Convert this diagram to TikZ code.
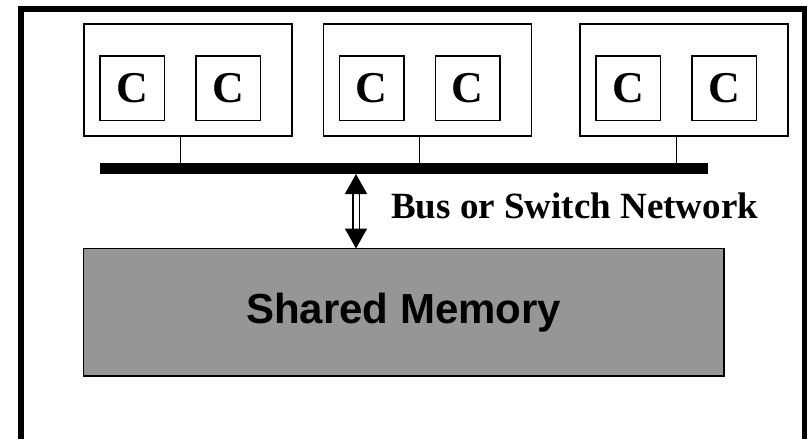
\documentclass[tikz,border=0pt]{standalone}
\usepackage{fontspec}
\setmainfont{Liberation Serif}
\newfontfamily\memfont{Liberation Sans}
\usetikzlibrary{arrows.meta,calc}
\definecolor{memgray}{RGB}{150,150,150}
\begin{document}
\begin{tikzpicture}[x=1pt,y=-1pt,
  procbox/.style={draw, line width=1.3pt, minimum width=208pt, minimum height=112pt,
    anchor=north west, inner sep=0pt, outer sep=0pt},
  corebox/.style={draw, line width=1.3pt, minimum width=64.5pt, minimum height=64.5pt,
    anchor=north west, inner sep=0pt, outer sep=0pt,
    font=\fontsize{44}{44}\selectfont\bfseries},
  link/.style={line width=1.3pt},
]
\useasboundingbox (0,0) rectangle (807,439);
% outer frame
\draw[line width=6pt] (20.5,8.5) rectangle (804.5,442);

% processor boxes, each holding two cores
\foreach \n/\x in {1/84, 2/323.5, 3/580}{
  \node[procbox] (p\n) at (\x,24) {};
  \node[corebox] (c\n a) at ($(\x,24)+(16,32)$) {C};
  \node[corebox] (c\n b) at ($(\x,24)+(112,32)$) {C};
}

% bus bar
\node[fill=black, draw=none, minimum width=608pt, minimum height=11pt,
  inner sep=0pt, outer sep=0pt, anchor=north west] (bus) at (100,163) {};

% drops from each processor box to the bus
\foreach \n in {1,2,3}{
  \coordinate (d\n) at ($(c\n a.east)!0.5!(c\n b.west)$);
  \draw[link] (d\n |- p\n.south) -- (d\n |- bus.north);
}

% shared memory
\node[draw, line width=1.6pt, fill=memgray, minimum width=640.5pt, minimum height=127.5pt,
  inner sep=0pt, outer sep=0pt, anchor=north west,
  font=\memfont\fontsize{42}{42}\selectfont\bfseries] (mem) at (83.5,248.5) {Shared Memory};

% two-way link between bus and memory
\coordinate (ax) at (356,0);
\draw[double, double distance=5pt, line width=1.5pt,
  {Triangle[width=22pt,length=20pt]}-{Triangle[width=22pt,length=20pt]}]
  (ax |- bus.south) -- (ax |- mem.north);

\node[anchor=base west, inner sep=0pt, font=\fontsize{37}{37}\selectfont\bfseries]
  (lbl) at (391,218) {Bus or Switch Network};
\end{tikzpicture}
\end{document}
